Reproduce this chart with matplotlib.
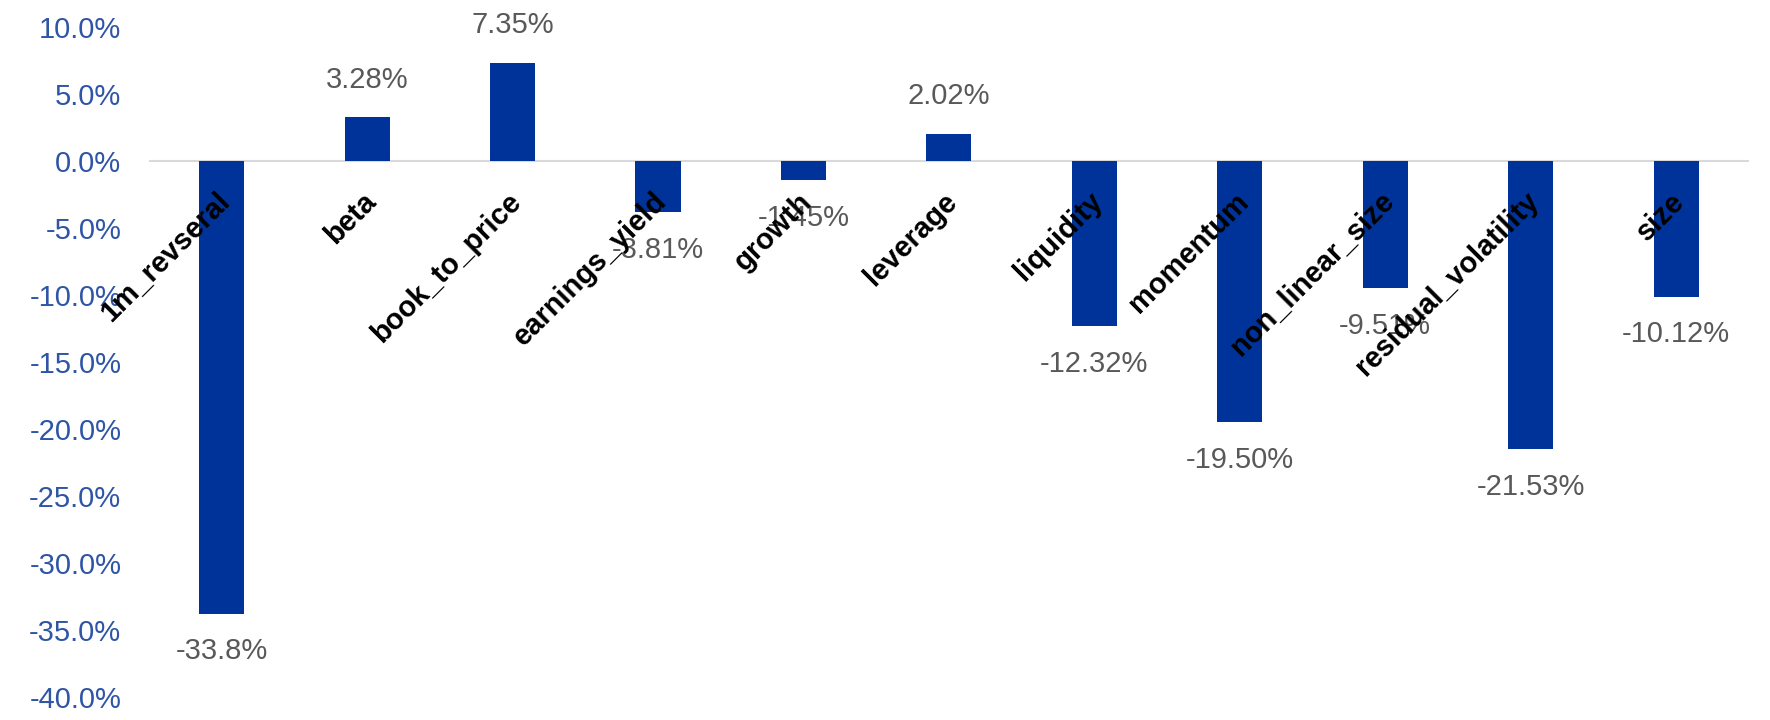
import matplotlib

matplotlib.use("Agg")
import matplotlib.pyplot as plt
from matplotlib.ticker import FuncFormatter

plt.rcParams.update({"font.family": ["Liberation Sans", "DejaVu Sans"]})

factors = ["1m_revseral", "beta", "book_to_price", "earnings_yield", "growth",
           "leverage", "liquidity", "momentum", "non_linear_size",
           "residual_volatility", "size"]
exposure = [-33.8, 3.28, 7.35, -3.81, -1.45, 2.02, -12.32, -19.50, -9.51, -21.53, -10.12]
value_labels = ["-33.8%", "3.28%", "7.35%", "-3.81%", "-1.45%", "2.02%",
                "-12.32%", "-19.50%", "-9.51%", "-21.53%", "-10.12%"]
yticks = [10, 5, 0, -5, -10, -15, -20, -25, -30, -35, -40]

BAR = "#003399"
TICK = "#2F55A6"
GREY = "#595959"

fig = plt.figure(figsize=(17.7, 7.2), dpi=100)
ax = fig.add_axes([0.0842, 0.032, 0.9038, 0.9305])

x = list(range(len(factors)))
ax.bar(x, exposure, width=0.31, color=BAR, zorder=2)
ax.axhline(0, color="#D9D9D9", lw=1.5, zorder=1)

ax.set_xlim(-0.5, len(factors) - 0.5)
ax.set_ylim(-40, 10)
ax.set_yticks(yticks)
ax.yaxis.set_major_formatter(FuncFormatter(lambda v, p: f"{v:.1f}%"))
ax.tick_params(axis="y", length=0, labelsize=21, labelcolor=TICK, pad=20)
ax.set_xticks([])
for s in ax.spines.values():
    s.set_visible(False)

# value labels above/below the bars
for xi, v, lab in zip(x, exposure, value_labels):
    off = 27 if v > 0 else -27
    ax.annotate(lab, (xi, v), xytext=(0, off), textcoords="offset points",
                ha="center", va="center", fontsize=21, color=GREY, zorder=3)

# category labels sitting on the zero line, rotated
for xi, name in zip(x, factors):
    ax.annotate(name, (xi, 0), xytext=(3, -26), textcoords="offset points",
                ha="right", va="center", rotation=45, rotation_mode="anchor",
                fontsize=21, fontweight="bold", color="black", zorder=4)

fig.savefig("out.png", dpi=100)
